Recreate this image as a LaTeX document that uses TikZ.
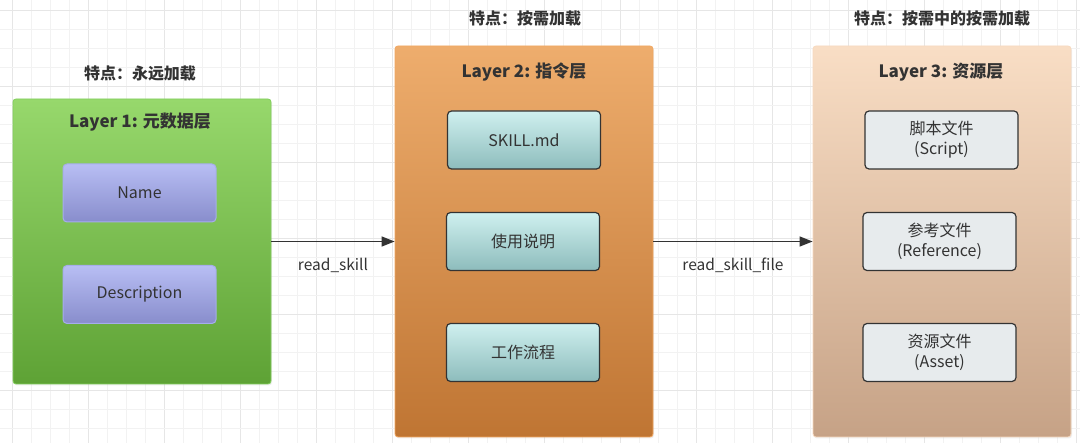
\documentclass[tikz,border=0pt]{standalone}
\usepackage{fontspec}
\setmainfont{Noto Sans CJK SC}
\usetikzlibrary{arrows.meta,shadows}
\definecolor{txt}{HTML}{333333}
\definecolor{gridminor}{HTML}{F2F2F2}
\definecolor{gridmajor}{HTML}{E6E6E6}
\definecolor{gAtop}{HTML}{97D86C}
\definecolor{gAbot}{HTML}{5EA235}
\definecolor{gAbd}{HTML}{82CF5C}
\definecolor{oAtop}{HTML}{EEAD6D}
\definecolor{oAbot}{HTML}{BF7533}
\definecolor{oAbd}{HTML}{F2A862}
\definecolor{pAtop}{HTML}{F9DEC5}
\definecolor{pAbot}{HTML}{C6A286}
\definecolor{pAbd}{HTML}{F7DAC0}
\definecolor{lvtop}{HTML}{B8BEF4}
\definecolor{lvbot}{HTML}{888DCC}
\definecolor{lvbd}{HTML}{A6ADEC}
\definecolor{tltop}{HTML}{CFF0EF}
\definecolor{tlbot}{HTML}{8DBCBC}
\definecolor{gyfill}{HTML}{E7EBED}
\definecolor{darkbd}{HTML}{333333}
\tikzset{
  layerbox/.style={rounded corners=3pt, minimum width=258pt, line width=0.8pt,
    drop shadow={opacity=0.12, shadow xshift=1pt, shadow yshift=-1.5pt}},
  itembox/.style={rounded corners=4pt, minimum width=153pt, minimum height=58pt,
    font=\fontsize{16}{20}\selectfont, text=txt, align=center, line width=1.2pt},
  lavbox/.style={itembox, top color=lvtop, bottom color=lvbot, draw=lvbd, line width=1pt},
  tealbox/.style={itembox, top color=tltop, bottom color=tlbot, draw=darkbd},
  graybox/.style={itembox, fill=gyfill, draw=darkbd},
  titletxt/.style={font=\bfseries\fontsize{17}{20}\selectfont, text=txt},
  feattxt/.style={font=\bfseries\fontsize{16}{19}\selectfont, text=txt},
  lbltxt/.style={font=\fontsize{15.5}{18}\selectfont, text=txt},
  arr/.style={-{Triangle[length=13pt,width=10pt]}, line width=1.3pt, draw=txt}
}
\begin{document}
\begin{tikzpicture}[x=1pt,y=-1pt]
\useasboundingbox (0,0) rectangle (1080,443);
\fill[white] (0,0) rectangle (1080,443);
% grid
\foreach \i in {0,...,56} {
  \pgfmathsetmacro{\xx}{12.7+19*\i}
  \pgfmathtruncatemacro{\mm}{mod(\i,4)}
  \ifnum\mm=0
    \draw[gridmajor, line width=0.9pt] (\xx,0) -- (\xx,443);
  \else
    \draw[gridminor, line width=0.9pt] (\xx,0) -- (\xx,443);
  \fi
}
\foreach \j in {0,...,23} {
  \pgfmathsetmacro{\yy}{10+19*\j}
  \pgfmathtruncatemacro{\mm}{mod(\j,4)}
  \ifnum\mm=0
    \draw[gridmajor, line width=0.9pt] (0,\yy) -- (1080,\yy);
  \else
    \draw[gridminor, line width=0.9pt] (0,\yy) -- (1080,\yy);
  \fi
}
% layers
\node[layerbox, minimum height=285pt, top color=gAtop, bottom color=gAbot, draw=gAbd] (l1) at (142,241.5) {};
\node[layerbox, minimum height=391pt, top color=oAtop, bottom color=oAbot, draw=oAbd] (l2) at (524,241.5) {};
\node[layerbox, minimum height=391pt, top color=pAtop, bottom color=pAbot, draw=pAbd] (l3) at (942,241.5) {};
% titles
\node[titletxt] (t1) at (140,122) {Layer 1: 元数据层};
\node[titletxt] (t2) at (524,72) {Layer 2: 指令层};
\node[titletxt] (t3) at (941,72) {Layer 3: 资源层};
\node[feattxt] (f1) at (140,73) {特点：永远加载};
\node[feattxt] (f2) at (525,18) {特点：按需加载};
\node[feattxt] (f3) at (942,18) {特点：按需中的按需加载};
% items
\node[lavbox] (name) at (139.5,193) {Name};
\node[lavbox] (desc) at (139.5,294.5) {Description};
\node[tealbox] (skill) at (524,140) {SKILL.md};
\node[tealbox] (usage) at (523,241.5) {使用说明};
\node[tealbox] (flow) at (523,352.5) {工作流程};
\node[graybox] (script) at (941.5,140) {脚本文件\\(Script)};
\node[graybox] (ref) at (939.5,241.5) {参考文件\\(Reference)};
\node[graybox] (asset) at (939.5,352.5) {资源文件\\(Asset)};
% arrows
\draw[arr] (l1) -- node[lbltxt, midway, yshift=-24pt] (a1) {read\_skill} (l2);
\draw[arr] (l2) -- node[lbltxt, midway, yshift=-24pt] (a2) {read\_skill\_file} (l3);
\end{tikzpicture}
\end{document}
